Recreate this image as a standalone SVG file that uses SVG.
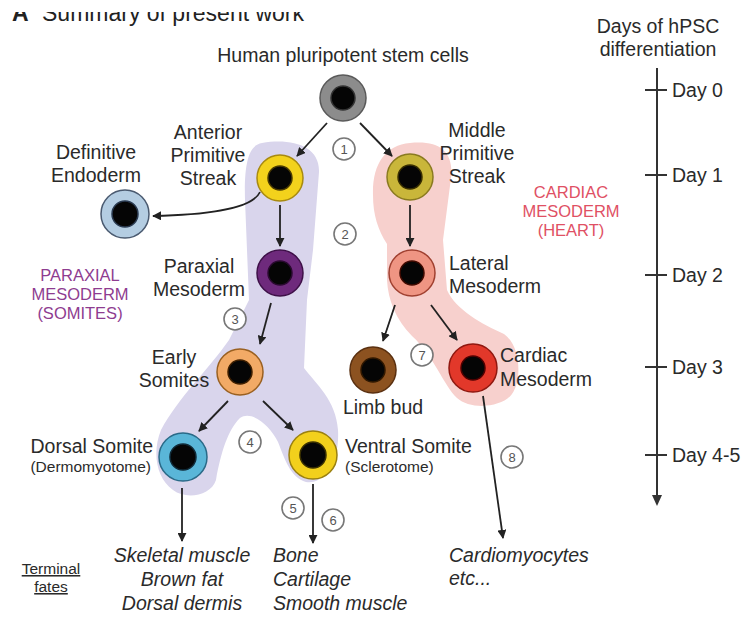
<svg xmlns="http://www.w3.org/2000/svg" width="744" height="632" viewBox="0 0 744 632">
<style>
  .t{font-family:"Liberation Sans",Arial,sans-serif;fill:#2a2a2a;font-size:19.5px}
  .m{text-anchor:middle}
  .e{text-anchor:end}
  .i{font-style:italic}
  .sm{font-size:15.5px}
  .cap{font-size:16.5px}
  .num{font-family:"Liberation Sans",Arial,sans-serif;font-size:13px;fill:#555;text-anchor:middle}
  .nc{fill:#fff;stroke:#777;stroke-width:1.6}
  .ln{stroke:#222;stroke-width:1.8;fill:none;marker-end:url(#ah)}
  .core{fill:#050505}
</style>
<defs>
  <marker id="ah" viewBox="0 0 10 10" refX="9" refY="5" markerWidth="5" markerHeight="5" orient="auto" markerUnits="strokeWidth">
    <path d="M0,0 L10,5 L0,10 Z" fill="#222"/>
  </marker>
  <clipPath id="topclip"><rect x="0" y="12" width="744" height="40"/></clipPath>
</defs>
<rect width="744" height="632" fill="#fff"/>

<g id="title" clip-path="url(#topclip)">
  <text x="12" y="21" font-family="Liberation Sans,Arial,sans-serif" font-size="23" font-weight="bold" fill="#222">A</text>
  <text x="42" y="21" font-family="Liberation Sans,Arial,sans-serif" font-size="23" fill="#222">Summary of present work</text>
</g>

<g id="regions">
  <path id="paraxial-region" fill="#d9d5ec" d="M262 143 C292 138 320 146 319 172 L313 250 L307 300 L304 368 C316 384 336 400 338 430 C340 465 322 485 306 482 C291 478 285 460 278 442 C270 426 252 410 240 418 C228 430 221 452 216 480 C211 496 186 500 173 490 C156 478 152 452 161 430 C178 398 208 370 229 340 L249 300 L245 200 C244 162 249 145 262 143 Z"/>
  <path id="cardiac-region" fill="#f7d0cd" d="M410 143 C440 140 454 152 451 178 L443 240 L447 290 C456 310 482 324 504 334 C521 346 522 380 512 394 C502 408 470 410 457 398 C444 386 434 356 412 336 C396 320 388 300 387 280 L387 244 C378 230 373 215 373 195 C372 165 385 145 410 143 Z"/>
</g>

<g id="connectors">
  <line class="ln" x1="327" y1="123" x2="297" y2="156"/>
  <line class="ln" x1="360" y1="123" x2="392" y2="156"/>
  <path class="ln" d="M260 192 Q250 214 153 216"/>
  <line class="ln" x1="280" y1="205" x2="280" y2="246"/>
  <line class="ln" x1="410" y1="205" x2="410" y2="246"/>
  <line class="ln" x1="271" y1="303" x2="260" y2="344"/>
  <line class="ln" x1="395" y1="305" x2="383" y2="341"/>
  <line class="ln" x1="431" y1="305" x2="457" y2="340"/>
  <line class="ln" x1="228" y1="401" x2="199" y2="431"/>
  <line class="ln" x1="263" y1="401" x2="293" y2="430"/>
  <line class="ln" x1="182" y1="488" x2="182" y2="541"/>
  <line class="ln" x1="313" y1="484" x2="313" y2="543"/>
  <line class="ln" x1="483" y1="396" x2="503" y2="538"/>
</g>

<g id="steps">
  <circle class="nc" cx="344" cy="149" r="11"/><text class="num" x="344" y="154">1</text>
  <circle class="nc" cx="345" cy="234" r="11"/><text class="num" x="345" y="239">2</text>
  <circle class="nc" cx="235" cy="319" r="11"/><text class="num" x="235" y="324">3</text>
  <circle class="nc" cx="250" cy="442" r="11"/><text class="num" x="250" y="447">4</text>
  <circle class="nc" cx="293" cy="508" r="11"/><text class="num" x="293" y="513">5</text>
  <circle class="nc" cx="333" cy="520" r="11"/><text class="num" x="333" y="525">6</text>
  <circle class="nc" cx="422" cy="355" r="11"/><text class="num" x="422" y="360">7</text>
  <circle class="nc" cx="512" cy="457" r="11"/><text class="num" x="512" y="462">8</text>
</g>

<g id="hpsc">
  <circle cx="343" cy="98" r="23" fill="#8c8c8c" stroke="#5a5a5a" stroke-width="1.5"/>
  <circle class="core" cx="343" cy="98" r="12" stroke="#333" stroke-width="1.5"/>
  <text class="t m" x="343" y="62" font-size="20.5">Human pluripotent stem cells</text>
</g>
<g id="aps">
  <circle cx="280" cy="178" r="23" fill="#f3d21c" stroke="#a88a10" stroke-width="1.5"/>
  <circle class="core" cx="280" cy="178" r="12" stroke="#4a3a00" stroke-width="1.5"/>
  <text class="t m" x="208" y="139">Anterior</text>
  <text class="t m" x="208" y="162">Primitive</text>
  <text class="t m" x="208" y="185">Streak</text>
</g>
<g id="mps">
  <circle cx="410" cy="177" r="23" fill="#c9b63a" stroke="#8a7a20" stroke-width="1.5"/>
  <circle class="core" cx="410" cy="177" r="12" stroke="#3a3000" stroke-width="1.5"/>
  <text class="t m" x="477" y="137">Middle</text>
  <text class="t m" x="477" y="160">Primitive</text>
  <text class="t m" x="477" y="183">Streak</text>
</g>
<g id="endoderm">
  <circle cx="125" cy="214" r="24" fill="#b4cde2" stroke="#4a5a70" stroke-width="1.5"/>
  <circle class="core" cx="125" cy="214" r="13" stroke="#2a3a50" stroke-width="1.5"/>
  <text class="t m" x="96" y="159">Definitive</text>
  <text class="t m" x="96" y="182">Endoderm</text>
</g>
<g id="paraxial">
  <circle cx="280" cy="273" r="23" fill="#6e2a7c" stroke="#3e1048" stroke-width="1.5"/>
  <circle class="core" cx="280" cy="273" r="12" stroke="#2a0a30" stroke-width="1.5"/>
  <text class="t m" x="199" y="273">Paraxial</text>
  <text class="t m" x="199" y="296">Mesoderm</text>
</g>
<g id="lateral">
  <circle cx="412" cy="273" r="23" fill="#ef9583" stroke="#a04030" stroke-width="1.5"/>
  <circle class="core" cx="412" cy="273" r="12" stroke="#400a00" stroke-width="1.5"/>
  <text class="t" x="449" y="270">Lateral</text>
  <text class="t" x="449" y="293">Mesoderm</text>
</g>
<g id="early-somites">
  <circle cx="240" cy="372" r="23" fill="#f2aa66" stroke="#9a6020" stroke-width="1.5"/>
  <circle class="core" cx="240" cy="372" r="12" stroke="#402000" stroke-width="1.5"/>
  <text class="t m" x="174" y="364">Early</text>
  <text class="t m" x="174" y="387">Somites</text>
</g>
<g id="limb-bud">
  <circle cx="373" cy="370" r="23" fill="#8c5220" stroke="#5a3010" stroke-width="1.5"/>
  <circle class="core" cx="373" cy="370" r="12" stroke="#301800" stroke-width="1.5"/>
  <text class="t m" x="383" y="414">Limb bud</text>
</g>
<g id="cardiac">
  <circle cx="473" cy="368" r="24" fill="#e2382a" stroke="#901810" stroke-width="1.5"/>
  <circle class="core" cx="473" cy="368" r="12" stroke="#500000" stroke-width="1.5"/>
  <text class="t" x="500" y="362">Cardiac</text>
  <text class="t" x="500" y="386">Mesoderm</text>
</g>
<g id="dorsal-somite">
  <circle cx="183" cy="457" r="24" fill="#5ab6d8" stroke="#2a6a88" stroke-width="1.5"/>
  <circle class="core" cx="183" cy="457" r="13" stroke="#102a38" stroke-width="1.5"/>
  <text class="t e" x="153" y="453">Dorsal Somite</text>
  <text class="t e sm" x="151" y="472">(Dermomyotome)</text>
</g>
<g id="ventral-somite">
  <circle cx="313" cy="455" r="24" fill="#f2d01c" stroke="#9a8010" stroke-width="1.5"/>
  <circle class="core" cx="313" cy="455" r="13" stroke="#3a3000" stroke-width="1.5"/>
  <text class="t" x="345" y="453">Ventral Somite</text>
  <text class="t sm" x="345" y="472">(Sclerotome)</text>
</g>

<g id="region-labels">
  <text class="t m cap" x="80" y="281" style="fill:#8e3c90">PARAXIAL</text>
  <text class="t m cap" x="80" y="300" style="fill:#8e3c90">MESODERM</text>
  <text class="t m cap" x="80" y="319" style="fill:#8e3c90">(SOMITES)</text>
  <text class="t m cap" x="571" y="198" style="fill:#e05064">CARDIAC</text>
  <text class="t m cap" x="571" y="217" style="fill:#e05064">MESODERM</text>
  <text class="t m cap" x="571" y="236" style="fill:#e05064">(HEART)</text>
</g>

<g id="fates">
  <text class="t m i" x="182" y="562">Skeletal muscle</text>
  <text class="t m i" x="182" y="586">Brown fat</text>
  <text class="t m i" x="182" y="610">Dorsal dermis</text>
  <text class="t i" x="273" y="562">Bone</text>
  <text class="t i" x="273" y="586">Cartilage</text>
  <text class="t i" x="273" y="610">Smooth muscle</text>
  <text class="t i" x="449" y="562">Cardiomyocytes</text>
  <text class="t i" x="449" y="585">etc...</text>
  <text class="t m sm" x="51" y="574" text-decoration="underline">Terminal</text>
  <text class="t m sm" x="51" y="592" text-decoration="underline">fates</text>
</g>

<g id="timeline">
  <text class="t m" x="658" y="33">Days of hPSC</text>
  <text class="t m" x="658" y="56">differentiation</text>
  <line x1="657" y1="68" x2="657" y2="497" stroke="#333" stroke-width="2"/>
  <path d="M652 495 L662 495 L657 506 Z" fill="#333"/>
  <g stroke="#333" stroke-width="2">
    <line x1="645" y1="90" x2="667" y2="90"/>
    <line x1="645" y1="175" x2="667" y2="175"/>
    <line x1="645" y1="275" x2="667" y2="275"/>
    <line x1="645" y1="367" x2="667" y2="367"/>
    <line x1="645" y1="455" x2="667" y2="455"/>
  </g>
  <text class="t" x="672" y="97">Day 0</text>
  <text class="t" x="672" y="182">Day 1</text>
  <text class="t" x="672" y="282">Day 2</text>
  <text class="t" x="672" y="374">Day 3</text>
  <text class="t" x="672" y="462">Day 4-5</text>
</g>
</svg>
